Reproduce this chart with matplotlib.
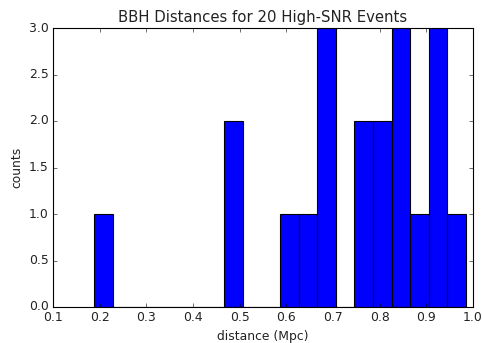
import matplotlib
matplotlib.use("Agg")
import matplotlib.pyplot as plt
import numpy as np

plt.style.use('classic')

bin_edges = np.linspace(0.188, 0.985, 21)
counts = [1, 0, 0, 0, 0, 0, 0, 2, 0, 0, 1, 1, 3, 0, 2, 2, 3, 1, 3, 1]
xticks = [0.1, 0.2, 0.3, 0.4, 0.5, 0.6, 0.7, 0.8, 0.9, 1.0]
yticks = [0.0, 0.5, 1.0, 1.5, 2.0, 2.5, 3.0]

fig = plt.figure(figsize=(482/80, 343/80), dpi=80, facecolor='white')
ax = fig.add_axes([53/482, 1-307/343, 420/482, 279/343])
ax.hist(bin_edges[:-1], bins=bin_edges, weights=counts, color='b', edgecolor='k')
ax.set_xlim(0.1, 1.0)
ax.set_ylim(0, 3.0)
ax.set_xticks(xticks)
ax.set_yticks(yticks)
ax.tick_params(labelsize=11.2)
ax.set_xlabel('distance (Mpc)', fontsize=11.2, color='#222222')
ax.set_ylabel('counts', fontsize=11.2, color='#222222')
ax.set_title('BBH Distances for 20 High-SNR Events', fontsize=13.4, color='#222222')
for lab in ax.get_xticklabels() + ax.get_yticklabels():
    lab.set_color('#222222')
fig.savefig('out.png', dpi=80, facecolor='white')
